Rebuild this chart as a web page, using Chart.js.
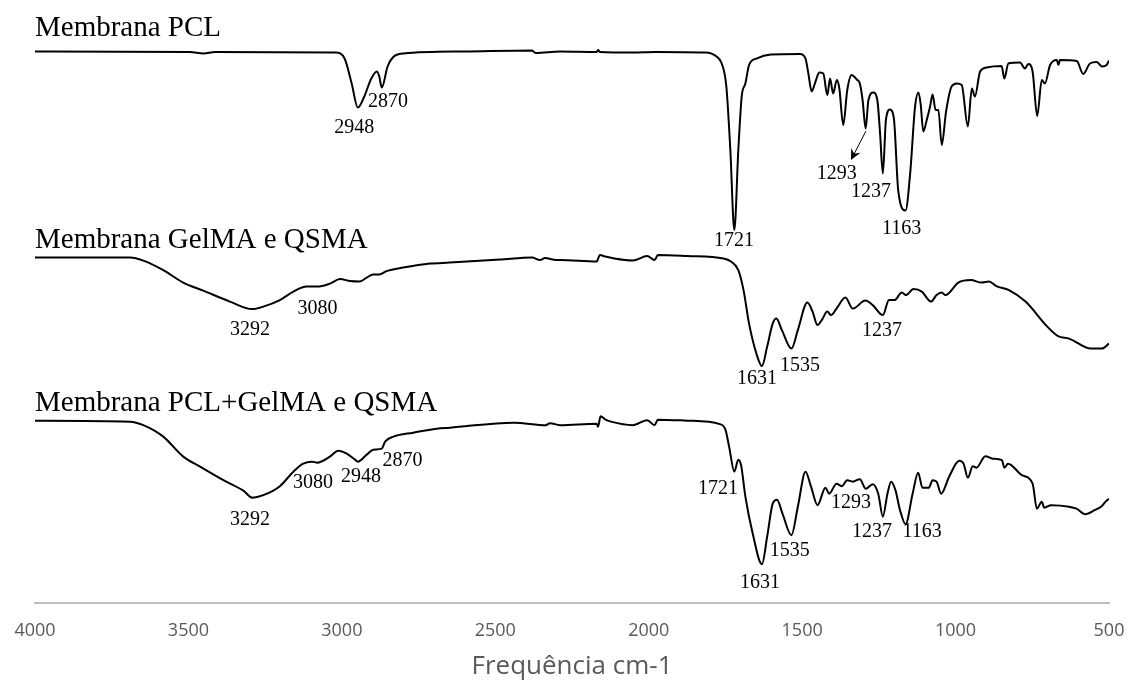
<!DOCTYPE html>
<html lang="pt">
<head>
  <meta charset="UTF-8">
  <title>FTIR - Membranas</title>
  <script src="https://cdn.jsdelivr.net/npm/chart.js"></script>
  <style>
    body {
      margin: 0;
      background: #fff;
    }
    #wrap {
      width: 1130px;
      height: 687px;
    }
  </style>
</head>
<body>
  <div id="wrap"><canvas id="ftirChart" width="1130" height="687"></canvas></div>

  <script>
    // Membrana PCL
    const pclWn = [4000,3495,3451,3413,3020,2991,2968,2948,2927,2904,2886,2878,2870,2851,2834,2799,2602,2380,2374,2368,2289,2170,2165,2159,2052,1980,1815,1779,1762,1747,1734,1721,1708,1697,1685,1673,1649,1602,1507,1489,1480,1469,1458,1444,1431,1418,1409,1399,1387,1379,1366,1353,1339,1322,1312,1303,1293,1284,1268,1255,1246,1237,1227,1214,1201,1187,1163,1148,1132,1121,1114,1105,1094,1083,1075,1065,1056,1045,1031,1013,996,980,960,947,937,920,899,850,841,828,790,774,763,749,734,719,709,692,670,665,660,605,584,562,540,522,508,500];
    const pclT = [110.3,110.2,109.9,110.2,110.1,108.9,103.9,99.1,101.3,104.9,106.3,105.3,103.1,107.3,109.1,109.9,110.3,110.5,110.2,110.0,110.3,110.2,110.6,110.2,110.1,110.2,110.1,109.3,107.9,103.3,90.6,74.6,90.6,101.3,103.9,107.6,108.9,109.7,109.8,108.9,106.0,102.3,104.0,106.1,105.9,101.6,104.9,101.9,104.6,103.0,95.6,102.6,105.6,104.7,103.9,100.6,94.9,100.6,102.1,100.6,93.9,85.9,96.6,98.7,96.9,82.6,78.5,85.9,99.3,102.1,99.9,94.3,96.6,99.3,101.7,98.6,98.6,91.6,98.3,103.3,103.9,103.6,95.3,102.9,101.3,106.3,107.1,107.4,104.9,107.9,108.1,106.9,107.8,106.3,97.4,104.6,103.9,107.6,108.6,107.6,108.6,108.4,105.8,107.9,108.2,107.3,107.6,108.5];

    // Membrana GelMA e QSMA
    const gelWn = [4000,3690,3647,3582,3517,3452,3365,3292,3256,3202,3158,3115,3080,3039,3006,2973,2941,2919,2898,2878,2854,2800,2713,2648,2485,2380,2354,2338,2302,2289,2170,2159,2141,2112,2052,2005,1981,1970,1874,1756,1732,1708,1691,1673,1649,1631,1614,1596,1584,1566,1535,1514,1483,1466,1450,1436,1418,1406,1388,1359,1335,1294,1270,1237,1217,1199,1175,1162,1137,1110,1080,1062,1045,1033,991,950,915,891,867,826,772,701,666,630,559,524,500];
    const gelT = [69.1,69.1,68.5,66.6,64.1,62.5,60.3,58.8,59.3,60.6,62.3,63.3,63.3,63.9,64.8,64.4,64.3,65.1,65.7,65.7,66.4,67.1,67.9,68.1,68.7,69.1,68.6,69.0,68.6,68.6,68.3,69.6,69.3,68.9,68.5,69.4,68.6,69.6,69.4,68.9,68.3,66.6,62.6,55.9,49.9,47.4,51.3,55.9,56.9,54.6,50.9,54.6,60.1,58.3,55.6,56.6,58.3,57.6,58.9,61.1,58.9,60.5,59.6,57.6,60.6,60.6,62.1,61.6,62.8,62.3,60.3,61.6,62.1,61.6,64.1,64.6,64.1,64.3,63.4,62.6,60.3,55.3,53.4,52.9,50.9,50.9,51.9];

    // Membrana PCL+GelMA e QSMA
    const mixWn = [4000,3690,3647,3582,3517,3462,3386,3321,3292,3256,3202,3158,3126,3098,3080,3039,3012,2984,2957,2948,2919,2898,2870,2859,2832,2767,2691,2648,2439,2335,2322,2289,2170,2165,2157,2141,2123,2052,2005,1981,1970,1874,1768,1750,1738,1721,1708,1699,1685,1661,1631,1614,1596,1582,1564,1535,1514,1489,1471,1450,1424,1412,1388,1371,1353,1335,1312,1293,1270,1252,1237,1222,1210,1196,1181,1163,1140,1122,1108,1087,1075,1062,1047,1021,988,974,960,944,932,903,879,849,841,829,784,749,735,719,711,689,630,606,577,547,524,511,500];
    const mixT = [36.5,36.3,35.6,33.3,29.3,27.3,24.6,22.5,21.1,21.6,23.4,26.3,27.9,28.3,28.1,29.3,30.5,29.9,28.7,28.3,29.7,30.7,30.9,32.3,33.3,34.1,34.9,35.1,36.1,35.6,36.0,35.6,35.9,35.3,37.4,36.7,36.3,35.6,36.6,35.6,36.7,36.5,35.8,34.7,31.3,26.3,28.7,27.6,21.3,13.9,7.8,13.3,19.9,20.7,17.9,13.6,19.3,26.3,23.3,19.6,23.1,21.9,23.9,23.4,24.6,24.3,24.8,22.9,23.8,21.9,17.3,21.9,24.3,22.6,18.6,15.8,21.9,26.1,23.1,23.1,24.6,24.3,21.9,25.3,28.5,27.9,25.1,27.4,27.1,29.4,28.9,28.6,27.1,27.9,25.6,23.9,18.9,20.3,19.1,19.6,19.3,18.9,17.8,18.6,19.4,20.3,20.9];

    const seriesNames = ['Membrana PCL', 'Membrana GelMA e QSMA', 'Membrana PCL+GelMA e QSMA'];
    const nameLevels = [115.0, 72.6, 40.0];

    // peak labels: text, wavenumber, level
    const peakLabels = [
      ['2948', 2960, 95.0], ['2870', 2850, 100.2], ['1721', 1722, 72.4],
      ['1293', 1387, 85.8], ['1237', 1276, 82.2], ['1163', 1176, 74.8],
      ['3292', 3299, 54.6], ['3080', 3079, 58.8], ['1631', 1647, 44.8],
      ['1535', 1507, 47.4], ['1237', 1240, 54.4],
      ['3292', 3299, 16.6], ['3080', 3094, 24.0], ['2948', 2938, 25.2],
      ['2870', 2802, 28.4], ['1721', 1774, 22.8], ['1535', 1540, 10.4],
      ['1631', 1637, 4.0], ['1293', 1341, 20.0], ['1237', 1272, 14.2],
      ['1163', 1109, 14.2]
    ];
    // arrow from 1293 peak to its label
    const arrowFrom = [1292, 94.4];
    const arrowTo = [1341, 88.6];

    const toPoints = (wn, t) => wn.map((x, i) => ({ x: x, y: t[i] }));

    function makeSet(label, wn, t) {
      return {
        label: label,
        data: toPoints(wn, t),
        borderColor: '#000',
        borderWidth: 2,
        pointRadius: 0,
        fill: false,
        cubicInterpolationMode: 'monotone'
      };
    }

    const labelPlugin = {
      id: 'peakText',
      afterDatasetsDraw(chart) {
        const ctx = chart.ctx;
        const xs = chart.scales.x;
        const ys = chart.scales.y;
        ctx.save();
        ctx.fillStyle = '#000';
        ctx.textBaseline = 'middle';

        ctx.font = '29px "Liberation Serif", "Times New Roman", serif';
        ctx.textAlign = 'left';
        seriesNames.forEach((name, i) => {
          ctx.fillText(name, xs.getPixelForValue(4000), ys.getPixelForValue(nameLevels[i]));
        });

        ctx.font = '20px "Liberation Serif", "Times New Roman", serif';
        ctx.textAlign = 'center';
        peakLabels.forEach(p => {
          ctx.fillText(p[0], xs.getPixelForValue(p[1]), ys.getPixelForValue(p[2]));
        });

        // arrow
        const x1 = xs.getPixelForValue(arrowFrom[0]), y1 = ys.getPixelForValue(arrowFrom[1]);
        const x2 = xs.getPixelForValue(arrowTo[0]), y2 = ys.getPixelForValue(arrowTo[1]);
        const ang = Math.atan2(y2 - y1, x2 - x1);
        ctx.strokeStyle = '#000';
        ctx.lineWidth = 1;
        ctx.beginPath();
        ctx.moveTo(x1, y1);
        ctx.lineTo(x2 - 6 * Math.cos(ang), y2 - 6 * Math.sin(ang));
        ctx.stroke();
        ctx.beginPath();
        ctx.moveTo(x2, y2);
        ctx.lineTo(x2 - 12 * Math.cos(ang - 0.45), y2 - 12 * Math.sin(ang - 0.45));
        ctx.lineTo(x2 - 7 * Math.cos(ang), y2 - 7 * Math.sin(ang));
        ctx.lineTo(x2 - 12 * Math.cos(ang + 0.45), y2 - 12 * Math.sin(ang + 0.45));
        ctx.closePath();
        ctx.fill();
        ctx.restore();
      }
    };

    new Chart(document.getElementById('ftirChart'), {
      type: 'line',
      data: {
        datasets: [
          makeSet(seriesNames[0], pclWn, pclT),
          makeSet(seriesNames[1], gelWn, gelT),
          makeSet(seriesNames[2], mixWn, mixT)
        ]
      },
      options: {
        responsive: false,
        animation: false,
        layout: { padding: { top: 3, left: 35, right: 21, bottom: 3 } },
        plugins: {
          legend: { display: false },
          tooltip: { enabled: false }
        },
        scales: {
          x: {
            type: 'linear',
            reverse: true,
            min: 500,
            max: 4000,
            grid: { display: false, drawTicks: true, tickLength: 17 },
            border: { display: true, color: '#bfbfbf', width: 2 },
            ticks: {
              stepSize: 500,
              padding: 0,
              color: '#595959',
              font: { family: '"Open Sans", sans-serif', size: 18 },
              callback: v => String(v)
            },
            title: {
              display: true,
              text: 'Frequência cm-1',
              color: '#595959',
              padding: { top: 9, bottom: 2 },
              font: { family: '"Open Sans", sans-serif', size: 26 }
            }
          },
          y: {
            display: false,
            min: 0,
            max: 120
          }
        }
      },
      plugins: [labelPlugin]
    });
  </script>
</body>
</html>
